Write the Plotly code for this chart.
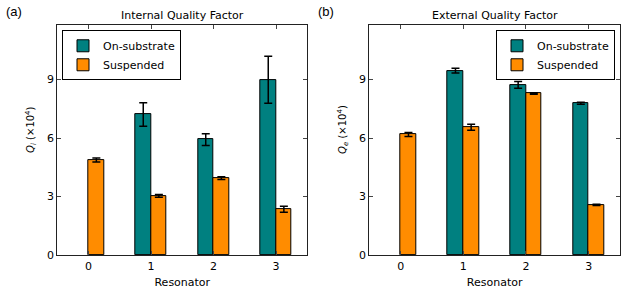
import plotly.graph_objects as go

resonators = [0, 1, 2, 3]
tick_labels = ["0", "1", "2", "3"]

qi_on = [None, 7.2, 5.92, 8.98]
qi_on_err = [None, 0.6, 0.3, 1.2]
qi_sus = [4.87, 3.04, 3.94, 2.35]
qi_sus_err = [0.1, 0.07, 0.07, 0.15]

qe_on = [None, 9.45, 8.72, 7.78]
qe_on_err = [None, 0.12, 0.17, 0.05]
qe_sus = [6.18, 6.55, 8.28, 2.58]
qe_sus_err = [0.1, 0.15, 0.04, 0.03]

TEAL = "#008080"
ORANGE = "#ff8c00"
FONT = "DejaVu Sans"

fig = go.Figure()

def add_pair(on, on_err, sus, sus_err, xa, ya, leg):
    fig.add_trace(go.Bar(
        x=resonators, y=on, width=0.25, offset=-0.25, name="On-substrate",
        marker=dict(color=TEAL, line=dict(color="black", width=1)),
        error_y=dict(type="data", array=on_err, color="black", thickness=1.5, width=4),
        xaxis=xa, yaxis=ya, legend=leg))
    fig.add_trace(go.Bar(
        x=resonators, y=sus, width=0.25, offset=0, name="Suspended",
        marker=dict(color=ORANGE, line=dict(color="black", width=1)),
        error_y=dict(type="data", array=sus_err, color="black", thickness=1.5, width=4),
        xaxis=xa, yaxis=ya, legend=leg))

add_pair(qi_on, qi_on_err, qi_sus, qi_sus_err, "x", "y", "legend")
add_pair(qe_on, qe_on_err, qe_sus, qe_sus_err, "x2", "y2", "legend2")

W, H = 624, 300
ydom = [1 - 261.3 / H, 1 - 25.7 / H]
axis_common = dict(
    showline=True, linecolor="#222", linewidth=1.2, mirror="ticks",
    ticks="inside", ticklen=4, tickcolor="#444", tickwidth=1,
    showgrid=False, zeroline=False,
    tickfont=dict(family=FONT, size=11, color="black"),
)
xaxis_common = dict(axis_common, range=[-0.5, 3.5], tickvals=resonators, ticktext=tick_labels,
                    title=dict(text="Resonator", font=dict(family=FONT, size=11, color="black"), standoff=6))
yaxis_common = dict(axis_common, range=[0, 11.78], tickvals=[0, 3, 6, 9])

legend_common = dict(bordercolor="black", borderwidth=1, bgcolor="white",
                     font=dict(family=FONT, size=11, color="black"), tracegroupgap=0, itemwidth=30)

fig.update_layout(
    width=W, height=H, margin=dict(l=0, r=0, t=0, b=0),
    paper_bgcolor="white", plot_bgcolor="white",
    barmode="overlay", bargap=0,
    font=dict(family=FONT, size=11, color="black"),
    xaxis=dict(xaxis_common, domain=[57.3 / W, 307.3 / W], anchor="y"),
    yaxis=dict(yaxis_common, domain=ydom, anchor="x"),
    xaxis2=dict(xaxis_common, domain=[369.3 / W, 620 / W], anchor="y2"),
    yaxis2=dict(yaxis_common, domain=ydom, anchor="x2"),
    legend=dict(legend_common, x=62 / W, y=1 - 31 / H, xanchor="left", yanchor="top"),
    legend2=dict(legend_common, x=615 / W, y=1 - 31 / H, xanchor="right", yanchor="top"),
    showlegend=True,
)

annotations = [
    dict(text="Internal Quality Factor", x=182.3 / W, y=1 - 16 / H, xref="paper", yref="paper",
         showarrow=False, font=dict(family=FONT, size=11), xanchor="center", yanchor="middle"),
    dict(text="External Quality Factor", x=494.7 / W, y=1 - 16 / H, xref="paper", yref="paper",
         showarrow=False, font=dict(family=FONT, size=11), xanchor="center", yanchor="middle"),
    dict(text="(a)", x=4 / W, y=1 - 12 / H, xref="paper", yref="paper",
         showarrow=False, font=dict(family="Liberation Sans", size=13), xanchor="left", yanchor="middle"),
    dict(text="(b)", x=316 / W, y=1 - 12 / H, xref="paper", yref="paper",
         showarrow=False, font=dict(family="Liberation Sans", size=13), xanchor="left", yanchor="middle"),
    dict(text="<i>Q</i><sub><i>i</i></sub> (×10<sup>4</sup>)", x=31 / W, y=1 - 133 / H,
         xref="paper", yref="paper", showarrow=False, textangle=-90,
         font=dict(family=FONT, size=10), xanchor="center", yanchor="middle"),
    dict(text="<i>Q</i><sub><i>e</i></sub> (×10<sup>4</sup>)", x=343 / W, y=1 - 133 / H,
         xref="paper", yref="paper", showarrow=False, textangle=-90,
         font=dict(family=FONT, size=10), xanchor="center", yanchor="middle"),
]
fig.update_layout(annotations=annotations)

fig.write_html(
    "out.html",
    config={"displayModeBar": False},
    post_script=(
        "var st=document.createElement('style');"
        "st.textContent='html,body{margin:0;padding:0;overflow:hidden;line-height:0;font-size:0;}"
        ".svg-container{display:block !important;vertical-align:top;}';"
        "document.head.appendChild(st);"
    ),
)
